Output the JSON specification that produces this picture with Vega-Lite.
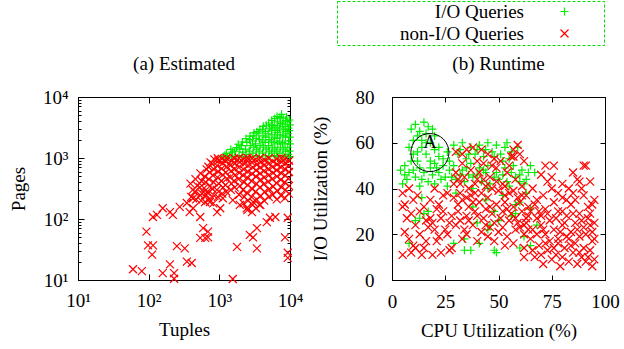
{
"$schema":"https://vega.github.io/schema/vega-lite/v6.json",
"padding":{"left":8,"top":0,"right":0,"bottom":0},
"background":"white",
"config":{
 "font":"Liberation Serif",
 "view":{"stroke":"black","strokeWidth":1},
 "axis":{"grid":false,"domainColor":"black","domainWidth":1,"tickColor":"black","tickWidth":1,"labelColor":"black","labelFont":"Liberation Serif","labelFontSize":19,"titleFont":"Liberation Serif","titleFontSize":19,"titleFontWeight":"normal","titleColor":"black","labelFlush":false,"labelOverlap":false,"tickSize":-5},
 "title":{"font":"Liberation Serif","fontSize":19,"fontWeight":"normal","color":"black","offset":14},
 "legend":{"labelFont":"Liberation Serif","labelFontSize":19,"labelColor":"black","labelAlign":"right","labelOffset":-50,"symbolOffset":217,"symbolStrokeWidth":1.2,"symbolSize":64,"strokeColor":"#00dd00","strokeDash":[3,2],"strokeWidth":1,"padding":1,"rowPadding":2}
},
"datasets":{
"est":[
{"type":"I/O Queries","tuples":1150,"pages":1050},{"type":"I/O Queries","tuples":1200,"pages":1110},
{"type":"I/O Queries","tuples":1300,"pages":1040},{"type":"I/O Queries","tuples":1260,"pages":1190},
{"type":"I/O Queries","tuples":1480,"pages":1080},{"type":"I/O Queries","tuples":1530,"pages":1250},{"type":"I/O Queries","tuples":1450,"pages":1380},
{"type":"I/O Queries","tuples":1700,"pages":1050},{"type":"I/O Queries","tuples":1650,"pages":1300},{"type":"I/O Queries","tuples":1750,"pages":1480},
{"type":"I/O Queries","tuples":1900,"pages":1100},{"type":"I/O Queries","tuples":1950,"pages":1400},{"type":"I/O Queries","tuples":1850,"pages":1680},
{"type":"I/O Queries","tuples":2100,"pages":1050},{"type":"I/O Queries","tuples":2150,"pages":1250},{"type":"I/O Queries","tuples":2050,"pages":1600},{"type":"I/O Queries","tuples":2120,"pages":1830},
{"type":"I/O Queries","tuples":2400,"pages":1150},{"type":"I/O Queries","tuples":2350,"pages":1400},{"type":"I/O Queries","tuples":2450,"pages":1800},{"type":"I/O Queries","tuples":2380,"pages":2080},
{"type":"I/O Queries","tuples":2700,"pages":1050},{"type":"I/O Queries","tuples":2650,"pages":1300},{"type":"I/O Queries","tuples":2750,"pages":1600},{"type":"I/O Queries","tuples":2680,"pages":2000},{"type":"I/O Queries","tuples":2720,"pages":2280},
{"type":"I/O Queries","tuples":3000,"pages":1200},{"type":"I/O Queries","tuples":3080,"pages":1500},{"type":"I/O Queries","tuples":2950,"pages":1900},{"type":"I/O Queries","tuples":3020,"pages":2300},{"type":"I/O Queries","tuples":3100,"pages":2580},
{"type":"I/O Queries","tuples":3300,"pages":1100},{"type":"I/O Queries","tuples":3380,"pages":1400},{"type":"I/O Queries","tuples":3250,"pages":1700},{"type":"I/O Queries","tuples":3320,"pages":2100},{"type":"I/O Queries","tuples":3400,"pages":2700},
{"type":"I/O Queries","tuples":3700,"pages":1050},{"type":"I/O Queries","tuples":3650,"pages":1300},{"type":"I/O Queries","tuples":3780,"pages":1600},{"type":"I/O Queries","tuples":3700,"pages":2000},{"type":"I/O Queries","tuples":3620,"pages":2500},{"type":"I/O Queries","tuples":3750,"pages":2950},
{"type":"I/O Queries","tuples":4100,"pages":1200},{"type":"I/O Queries","tuples":4200,"pages":1500},{"type":"I/O Queries","tuples":4050,"pages":1900},{"type":"I/O Queries","tuples":4150,"pages":2300},{"type":"I/O Queries","tuples":4080,"pages":2900},{"type":"I/O Queries","tuples":4180,"pages":3300},
{"type":"I/O Queries","tuples":4500,"pages":1100},{"type":"I/O Queries","tuples":4600,"pages":1400},{"type":"I/O Queries","tuples":4450,"pages":1800},{"type":"I/O Queries","tuples":4550,"pages":2200},{"type":"I/O Queries","tuples":4480,"pages":2700},{"type":"I/O Queries","tuples":4620,"pages":3450},
{"type":"I/O Queries","tuples":5000,"pages":1050},{"type":"I/O Queries","tuples":5100,"pages":1300},{"type":"I/O Queries","tuples":4950,"pages":1600},{"type":"I/O Queries","tuples":5050,"pages":2000},{"type":"I/O Queries","tuples":4900,"pages":2500},{"type":"I/O Queries","tuples":5150,"pages":3100},{"type":"I/O Queries","tuples":5000,"pages":3750},
{"type":"I/O Queries","tuples":5500,"pages":1200},{"type":"I/O Queries","tuples":5600,"pages":1500},{"type":"I/O Queries","tuples":5450,"pages":1900},{"type":"I/O Queries","tuples":5550,"pages":2400},{"type":"I/O Queries","tuples":5480,"pages":2900},{"type":"I/O Queries","tuples":5620,"pages":3500},{"type":"I/O Queries","tuples":5520,"pages":4150},
{"type":"I/O Queries","tuples":6000,"pages":1100},{"type":"I/O Queries","tuples":6100,"pages":1400},{"type":"I/O Queries","tuples":5950,"pages":1800},{"type":"I/O Queries","tuples":6050,"pages":2200},{"type":"I/O Queries","tuples":6150,"pages":2800},{"type":"I/O Queries","tuples":5980,"pages":3400},{"type":"I/O Queries","tuples":6080,"pages":4450},
{"type":"I/O Queries","tuples":6600,"pages":1050},{"type":"I/O Queries","tuples":6500,"pages":1300},{"type":"I/O Queries","tuples":6700,"pages":1700},{"type":"I/O Queries","tuples":6550,"pages":2100},{"type":"I/O Queries","tuples":6650,"pages":2600},{"type":"I/O Queries","tuples":6600,"pages":3200},{"type":"I/O Queries","tuples":6700,"pages":3900},{"type":"I/O Queries","tuples":6550,"pages":4800},
{"type":"I/O Queries","tuples":7200,"pages":1200},{"type":"I/O Queries","tuples":7300,"pages":1500},{"type":"I/O Queries","tuples":7150,"pages":1900},{"type":"I/O Queries","tuples":7250,"pages":2400},{"type":"I/O Queries","tuples":7100,"pages":3000},{"type":"I/O Queries","tuples":7350,"pages":3700},{"type":"I/O Queries","tuples":7200,"pages":4600},{"type":"I/O Queries","tuples":7600,"pages":5200},
{"type":"I/O Queries","tuples":7900,"pages":1100},{"type":"I/O Queries","tuples":8000,"pages":1400},{"type":"I/O Queries","tuples":7800,"pages":1800},{"type":"I/O Queries","tuples":7950,"pages":2300},{"type":"I/O Queries","tuples":8050,"pages":2900},{"type":"I/O Queries","tuples":7850,"pages":3600},{"type":"I/O Queries","tuples":8000,"pages":4400},{"type":"I/O Queries","tuples":8900,"pages":4700},
{"type":"I/O Queries","tuples":8600,"pages":1050},{"type":"I/O Queries","tuples":8700,"pages":1300},{"type":"I/O Queries","tuples":8500,"pages":1700},{"type":"I/O Queries","tuples":8650,"pages":2200},{"type":"I/O Queries","tuples":8750,"pages":2700},{"type":"I/O Queries","tuples":8550,"pages":3300},{"type":"I/O Queries","tuples":8700,"pages":4100},
{"type":"I/O Queries","tuples":9400,"pages":1150},{"type":"I/O Queries","tuples":9300,"pages":1500},{"type":"I/O Queries","tuples":9500,"pages":1900},{"type":"I/O Queries","tuples":9350,"pages":2500},{"type":"I/O Queries","tuples":9450,"pages":3100},{"type":"I/O Queries","tuples":9300,"pages":3900},
{"type":"I/O Queries","tuples":9900,"pages":1050},{"type":"I/O Queries","tuples":9850,"pages":1300},{"type":"I/O Queries","tuples":9950,"pages":1700},{"type":"I/O Queries","tuples":9900,"pages":2200},{"type":"I/O Queries","tuples":9800,"pages":2800},{"type":"I/O Queries","tuples":9950,"pages":3500},{"type":"I/O Queries","tuples":9850,"pages":4200},
{"type":"non-I/O Queries","tuples":400,"pages":230},{"type":"non-I/O Queries","tuples":420,"pages":300},{"type":"non-I/O Queries","tuples":390,"pages":380},
{"type":"non-I/O Queries","tuples":470,"pages":210},{"type":"non-I/O Queries","tuples":450,"pages":280},{"type":"non-I/O Queries","tuples":490,"pages":350},{"type":"non-I/O Queries","tuples":460,"pages":450},
{"type":"non-I/O Queries","tuples":550,"pages":200},{"type":"non-I/O Queries","tuples":570,"pages":260},{"type":"non-I/O Queries","tuples":530,"pages":330},{"type":"non-I/O Queries","tuples":560,"pages":420},{"type":"non-I/O Queries","tuples":540,"pages":560},
{"type":"non-I/O Queries","tuples":630,"pages":190},{"type":"non-I/O Queries","tuples":650,"pages":250},{"type":"non-I/O Queries","tuples":610,"pages":320},{"type":"non-I/O Queries","tuples":640,"pages":400},{"type":"non-I/O Queries","tuples":620,"pages":500},{"type":"non-I/O Queries","tuples":660,"pages":650},
{"type":"non-I/O Queries","tuples":720,"pages":210},{"type":"non-I/O Queries","tuples":700,"pages":270},{"type":"non-I/O Queries","tuples":740,"pages":350},{"type":"non-I/O Queries","tuples":710,"pages":450},{"type":"non-I/O Queries","tuples":730,"pages":580},{"type":"non-I/O Queries","tuples":700,"pages":720},{"type":"non-I/O Queries","tuples":750,"pages":850},
{"type":"non-I/O Queries","tuples":820,"pages":180},{"type":"non-I/O Queries","tuples":850,"pages":240},{"type":"non-I/O Queries","tuples":800,"pages":310},{"type":"non-I/O Queries","tuples":830,"pages":400},{"type":"non-I/O Queries","tuples":810,"pages":520},{"type":"non-I/O Queries","tuples":840,"pages":650},{"type":"non-I/O Queries","tuples":800,"pages":800},{"type":"non-I/O Queries","tuples":850,"pages":950},
{"type":"non-I/O Queries","tuples":950,"pages":230},{"type":"non-I/O Queries","tuples":920,"pages":300},{"type":"non-I/O Queries","tuples":980,"pages":380},{"type":"non-I/O Queries","tuples":940,"pages":480},{"type":"non-I/O Queries","tuples":960,"pages":600},{"type":"non-I/O Queries","tuples":930,"pages":750},{"type":"non-I/O Queries","tuples":970,"pages":900},{"type":"non-I/O Queries","tuples":950,"pages":990},
{"type":"non-I/O Queries","tuples":1100,"pages":260},{"type":"non-I/O Queries","tuples":1130,"pages":330},{"type":"non-I/O Queries","tuples":1070,"pages":420},{"type":"non-I/O Queries","tuples":1120,"pages":530},{"type":"non-I/O Queries","tuples":1080,"pages":670},{"type":"non-I/O Queries","tuples":1110,"pages":820},{"type":"non-I/O Queries","tuples":1090,"pages":970},
{"type":"non-I/O Queries","tuples":1250,"pages":280},{"type":"non-I/O Queries","tuples":1220,"pages":360},{"type":"non-I/O Queries","tuples":1280,"pages":460},{"type":"non-I/O Queries","tuples":1240,"pages":580},{"type":"non-I/O Queries","tuples":1270,"pages":720},{"type":"non-I/O Queries","tuples":1230,"pages":880},{"type":"non-I/O Queries","tuples":1260,"pages":1000},
{"type":"non-I/O Queries","tuples":1450,"pages":300},{"type":"non-I/O Queries","tuples":1480,"pages":380},{"type":"non-I/O Queries","tuples":1420,"pages":480},{"type":"non-I/O Queries","tuples":1460,"pages":610},{"type":"non-I/O Queries","tuples":1440,"pages":760},{"type":"non-I/O Queries","tuples":1470,"pages":920},
{"type":"non-I/O Queries","tuples":1650,"pages":330},{"type":"non-I/O Queries","tuples":1620,"pages":420},{"type":"non-I/O Queries","tuples":1680,"pages":530},{"type":"non-I/O Queries","tuples":1640,"pages":660},{"type":"non-I/O Queries","tuples":1670,"pages":820},{"type":"non-I/O Queries","tuples":1630,"pages":980},
{"type":"non-I/O Queries","tuples":1900,"pages":250},{"type":"non-I/O Queries","tuples":1950,"pages":350},{"type":"non-I/O Queries","tuples":1860,"pages":450},{"type":"non-I/O Queries","tuples":1920,"pages":570},{"type":"non-I/O Queries","tuples":1880,"pages":700},{"type":"non-I/O Queries","tuples":1940,"pages":860},{"type":"non-I/O Queries","tuples":1900,"pages":1000},
{"type":"non-I/O Queries","tuples":2200,"pages":180},{"type":"non-I/O Queries","tuples":2250,"pages":230},{"type":"non-I/O Queries","tuples":2150,"pages":300},{"type":"non-I/O Queries","tuples":2230,"pages":400},{"type":"non-I/O Queries","tuples":2170,"pages":520},{"type":"non-I/O Queries","tuples":2210,"pages":650},{"type":"non-I/O Queries","tuples":2260,"pages":800},{"type":"non-I/O Queries","tuples":2190,"pages":950},
{"type":"non-I/O Queries","tuples":2500,"pages":140},{"type":"non-I/O Queries","tuples":2550,"pages":200},{"type":"non-I/O Queries","tuples":2450,"pages":270},{"type":"non-I/O Queries","tuples":2530,"pages":360},{"type":"non-I/O Queries","tuples":2470,"pages":480},{"type":"non-I/O Queries","tuples":2520,"pages":600},{"type":"non-I/O Queries","tuples":2560,"pages":750},{"type":"non-I/O Queries","tuples":2480,"pages":900},{"type":"non-I/O Queries","tuples":2510,"pages":1000},
{"type":"non-I/O Queries","tuples":2900,"pages":130},{"type":"non-I/O Queries","tuples":2950,"pages":170},{"type":"non-I/O Queries","tuples":2850,"pages":230},{"type":"non-I/O Queries","tuples":2930,"pages":310},{"type":"non-I/O Queries","tuples":2870,"pages":420},{"type":"non-I/O Queries","tuples":2910,"pages":550},{"type":"non-I/O Queries","tuples":2960,"pages":700},{"type":"non-I/O Queries","tuples":2880,"pages":850},{"type":"non-I/O Queries","tuples":2920,"pages":980},
{"type":"non-I/O Queries","tuples":3300,"pages":150},{"type":"non-I/O Queries","tuples":3370,"pages":210},{"type":"non-I/O Queries","tuples":3250,"pages":280},{"type":"non-I/O Queries","tuples":3340,"pages":380},{"type":"non-I/O Queries","tuples":3280,"pages":500},{"type":"non-I/O Queries","tuples":3320,"pages":630},{"type":"non-I/O Queries","tuples":3380,"pages":780},{"type":"non-I/O Queries","tuples":3260,"pages":940},
{"type":"non-I/O Queries","tuples":3800,"pages":170},{"type":"non-I/O Queries","tuples":3870,"pages":240},{"type":"non-I/O Queries","tuples":3750,"pages":330},{"type":"non-I/O Queries","tuples":3840,"pages":440},{"type":"non-I/O Queries","tuples":3780,"pages":560},{"type":"non-I/O Queries","tuples":3820,"pages":700},{"type":"non-I/O Queries","tuples":3880,"pages":860},{"type":"non-I/O Queries","tuples":3760,"pages":1000},
{"type":"non-I/O Queries","tuples":4300,"pages":200},{"type":"non-I/O Queries","tuples":4380,"pages":280},{"type":"non-I/O Queries","tuples":4250,"pages":370},{"type":"non-I/O Queries","tuples":4340,"pages":480},{"type":"non-I/O Queries","tuples":4270,"pages":610},{"type":"non-I/O Queries","tuples":4320,"pages":760},{"type":"non-I/O Queries","tuples":4400,"pages":920},
{"type":"non-I/O Queries","tuples":5000,"pages":230},{"type":"non-I/O Queries","tuples":5100,"pages":310},{"type":"non-I/O Queries","tuples":4900,"pages":410},{"type":"non-I/O Queries","tuples":5050,"pages":530},{"type":"non-I/O Queries","tuples":4950,"pages":660},{"type":"non-I/O Queries","tuples":5080,"pages":820},{"type":"non-I/O Queries","tuples":5000,"pages":990},
{"type":"non-I/O Queries","tuples":5700,"pages":250},{"type":"non-I/O Queries","tuples":5800,"pages":340},{"type":"non-I/O Queries","tuples":5600,"pages":450},{"type":"non-I/O Queries","tuples":5750,"pages":570},{"type":"non-I/O Queries","tuples":5650,"pages":710},{"type":"non-I/O Queries","tuples":5780,"pages":870},
{"type":"non-I/O Queries","tuples":6500,"pages":210},{"type":"non-I/O Queries","tuples":6600,"pages":290},{"type":"non-I/O Queries","tuples":6400,"pages":390},{"type":"non-I/O Queries","tuples":6550,"pages":500},{"type":"non-I/O Queries","tuples":6450,"pages":630},{"type":"non-I/O Queries","tuples":6580,"pages":790},{"type":"non-I/O Queries","tuples":6500,"pages":960},
{"type":"non-I/O Queries","tuples":7500,"pages":240},{"type":"non-I/O Queries","tuples":7600,"pages":330},{"type":"non-I/O Queries","tuples":7400,"pages":440},{"type":"non-I/O Queries","tuples":7550,"pages":560},{"type":"non-I/O Queries","tuples":7450,"pages":700},{"type":"non-I/O Queries","tuples":7580,"pages":860},{"type":"non-I/O Queries","tuples":7500,"pages":1000},
{"type":"non-I/O Queries","tuples":8500,"pages":220},{"type":"non-I/O Queries","tuples":8600,"pages":300},{"type":"non-I/O Queries","tuples":8400,"pages":400},{"type":"non-I/O Queries","tuples":8550,"pages":520},{"type":"non-I/O Queries","tuples":8450,"pages":660},{"type":"non-I/O Queries","tuples":8580,"pages":820},{"type":"non-I/O Queries","tuples":8500,"pages":970},
{"type":"non-I/O Queries","tuples":9600,"pages":260},{"type":"non-I/O Queries","tuples":9700,"pages":350},{"type":"non-I/O Queries","tuples":9500,"pages":460},{"type":"non-I/O Queries","tuples":9650,"pages":590},{"type":"non-I/O Queries","tuples":9550,"pages":740},{"type":"non-I/O Queries","tuples":9700,"pages":900},
{"type":"non-I/O Queries","tuples":60,"pages":15},{"type":"non-I/O Queries","tuples":80,"pages":14},{"type":"non-I/O Queries","tuples":93,"pages":62},{"type":"non-I/O Queries","tuples":98,"pages":37},{"type":"non-I/O Queries","tuples":115,"pages":37},{"type":"non-I/O Queries","tuples":112,"pages":26},{"type":"non-I/O Queries","tuples":158,"pages":13},{"type":"non-I/O Queries","tuples":200,"pages":18},{"type":"non-I/O Queries","tuples":229,"pages":13},{"type":"non-I/O Queries","tuples":229,"pages":10.5},{"type":"non-I/O Queries","tuples":251,"pages":36},{"type":"non-I/O Queries","tuples":324,"pages":33},{"type":"non-I/O Queries","tuples":347,"pages":20},{"type":"non-I/O Queries","tuples":407,"pages":19},{"type":"non-I/O Queries","tuples":537,"pages":108},{"type":"non-I/O Queries","tuples":589,"pages":71},{"type":"non-I/O Queries","tuples":631,"pages":49},{"type":"non-I/O Queries","tuples":692,"pages":50},{"type":"non-I/O Queries","tuples":537,"pages":49},{"type":"non-I/O Queries","tuples":692,"pages":62},{"type":"non-I/O Queries","tuples":1550,"pages":10.4},{"type":"non-I/O Queries","tuples":1780,"pages":35},{"type":"non-I/O Queries","tuples":2700,"pages":55},{"type":"non-I/O Queries","tuples":3000,"pages":50},{"type":"non-I/O Queries","tuples":3400,"pages":33},{"type":"non-I/O Queries","tuples":3400,"pages":71},{"type":"non-I/O Queries","tuples":4700,"pages":89},{"type":"non-I/O Queries","tuples":5200,"pages":105},{"type":"non-I/O Queries","tuples":6200,"pages":108},{"type":"non-I/O Queries","tuples":8500,"pages":50},{"type":"non-I/O Queries","tuples":9300,"pages":28},{"type":"non-I/O Queries","tuples":9300,"pages":23},{"type":"non-I/O Queries","tuples":9300,"pages":105},{"type":"non-I/O Queries","tuples":115,"pages":108},{"type":"non-I/O Queries","tuples":131,"pages":117},{"type":"non-I/O Queries","tuples":158,"pages":150},{"type":"non-I/O Queries","tuples":200,"pages":130},{"type":"non-I/O Queries","tuples":220,"pages":117},{"type":"non-I/O Queries","tuples":275,"pages":158},{"type":"non-I/O Queries","tuples":347,"pages":183},{"type":"non-I/O Queries","tuples":380,"pages":130},{"type":"non-I/O Queries","tuples":425,"pages":150},{"type":"non-I/O Queries","tuples":425,"pages":219},{"type":"non-I/O Queries","tuples":537,"pages":245},{"type":"non-I/O Queries","tuples":665,"pages":275},{"type":"non-I/O Queries","tuples":735,"pages":190},{"type":"non-I/O Queries","tuples":930,"pages":130},{"type":"non-I/O Queries","tuples":1030,"pages":150},{"type":"non-I/O Queries","tuples":1120,"pages":219},{"type":"non-I/O Queries","tuples":1550,"pages":204},{"type":"non-I/O Queries","tuples":1950,"pages":170},{"type":"non-I/O Queries","tuples":2450,"pages":150},{"type":"non-I/O Queries","tuples":3000,"pages":190},{"type":"non-I/O Queries","tuples":3700,"pages":170}
],
"run":[
{"type":"I/O Queries","cpu":9,"io":66},{"type":"I/O Queries","cpu":11,"io":68},{"type":"I/O Queries","cpu":13,"io":65},{"type":"I/O Queries","cpu":15,"io":69},{"type":"I/O Queries","cpu":17,"io":67},{"type":"I/O Queries","cpu":19,"io":66},{"type":"I/O Queries","cpu":12,"io":63},{"type":"I/O Queries","cpu":16,"io":64},{"type":"I/O Queries","cpu":20,"io":63},{"type":"I/O Queries","cpu":10,"io":61},{"type":"I/O Queries","cpu":14,"io":61},{"type":"I/O Queries","cpu":18,"io":60},{"type":"I/O Queries","cpu":22,"io":58},
{"type":"I/O Queries","cpu":6,"io":50},{"type":"I/O Queries","cpu":8,"io":47},{"type":"I/O Queries","cpu":10,"io":55},{"type":"I/O Queries","cpu":12,"io":52},{"type":"I/O Queries","cpu":14,"io":58},{"type":"I/O Queries","cpu":16,"io":55},{"type":"I/O Queries","cpu":18,"io":52},{"type":"I/O Queries","cpu":20,"io":57},{"type":"I/O Queries","cpu":22,"io":54},{"type":"I/O Queries","cpu":24,"io":50},{"type":"I/O Queries","cpu":26,"io":56},{"type":"I/O Queries","cpu":7,"io":44},{"type":"I/O Queries","cpu":11,"io":45},{"type":"I/O Queries","cpu":15,"io":47},{"type":"I/O Queries","cpu":19,"io":46},{"type":"I/O Queries","cpu":23,"io":44},{"type":"I/O Queries","cpu":27,"io":48},{"type":"I/O Queries","cpu":13,"io":49},{"type":"I/O Queries","cpu":17,"io":43},{"type":"I/O Queries","cpu":21,"io":49},{"type":"I/O Queries","cpu":9,"io":52},{"type":"I/O Queries","cpu":25,"io":45},{"type":"I/O Queries","cpu":4,"io":48},
{"type":"I/O Queries","cpu":8,"io":58},{"type":"I/O Queries","cpu":12,"io":56},{"type":"I/O Queries","cpu":16,"io":60},{"type":"I/O Queries","cpu":20,"io":51},{"type":"I/O Queries","cpu":24,"io":53},{"type":"I/O Queries","cpu":6,"io":46},{"type":"I/O Queries","cpu":10,"io":48},{"type":"I/O Queries","cpu":14,"io":44},{"type":"I/O Queries","cpu":18,"io":49},{"type":"I/O Queries","cpu":22,"io":47},{"type":"I/O Queries","cpu":27,"io":52},{"type":"I/O Queries","cpu":28,"io":45},
{"type":"I/O Queries","cpu":29,"io":59},{"type":"I/O Queries","cpu":33,"io":60},{"type":"I/O Queries","cpu":37,"io":58},{"type":"I/O Queries","cpu":41,"io":59},{"type":"I/O Queries","cpu":45,"io":60},{"type":"I/O Queries","cpu":49,"io":59},{"type":"I/O Queries","cpu":53,"io":58},{"type":"I/O Queries","cpu":31,"io":55},{"type":"I/O Queries","cpu":35,"io":53},{"type":"I/O Queries","cpu":39,"io":55},{"type":"I/O Queries","cpu":43,"io":54},{"type":"I/O Queries","cpu":47,"io":56},{"type":"I/O Queries","cpu":51,"io":55},{"type":"I/O Queries","cpu":55,"io":53},{"type":"I/O Queries","cpu":29,"io":50},{"type":"I/O Queries","cpu":33,"io":48},{"type":"I/O Queries","cpu":37,"io":51},{"type":"I/O Queries","cpu":41,"io":49},{"type":"I/O Queries","cpu":45,"io":50},{"type":"I/O Queries","cpu":49,"io":47},{"type":"I/O Queries","cpu":53,"io":49},{"type":"I/O Queries","cpu":57,"io":50},{"type":"I/O Queries","cpu":30,"io":44},{"type":"I/O Queries","cpu":34,"io":43},{"type":"I/O Queries","cpu":38,"io":45},{"type":"I/O Queries","cpu":42,"io":43},{"type":"I/O Queries","cpu":46,"io":42},{"type":"I/O Queries","cpu":50,"io":44},{"type":"I/O Queries","cpu":54,"io":43},{"type":"I/O Queries","cpu":58,"io":45},{"type":"I/O Queries","cpu":61,"io":48},{"type":"I/O Queries","cpu":60,"io":43},{"type":"I/O Queries","cpu":65,"io":50},{"type":"I/O Queries","cpu":64,"io":47},{"type":"I/O Queries","cpu":67,"io":47},{"type":"I/O Queries","cpu":54,"io":60},{"type":"I/O Queries","cpu":59,"io":58},
{"type":"I/O Queries","cpu":32,"io":57},{"type":"I/O Queries","cpu":36,"io":55},{"type":"I/O Queries","cpu":40,"io":57},{"type":"I/O Queries","cpu":44,"io":57},{"type":"I/O Queries","cpu":48,"io":54},{"type":"I/O Queries","cpu":52,"io":52},{"type":"I/O Queries","cpu":56,"io":56},{"type":"I/O Queries","cpu":32,"io":46},{"type":"I/O Queries","cpu":36,"io":46},{"type":"I/O Queries","cpu":40,"io":46},{"type":"I/O Queries","cpu":44,"io":47},{"type":"I/O Queries","cpu":48,"io":45},{"type":"I/O Queries","cpu":52,"io":46},{"type":"I/O Queries","cpu":56,"io":47},{"type":"I/O Queries","cpu":60,"io":46},{"type":"I/O Queries","cpu":63,"io":44},{"type":"I/O Queries","cpu":35,"io":49},{"type":"I/O Queries","cpu":43,"io":48},
{"type":"I/O Queries","cpu":5,"io":42},{"type":"I/O Queries","cpu":13,"io":41},{"type":"I/O Queries","cpu":20,"io":42},{"type":"I/O Queries","cpu":26,"io":41},{"type":"I/O Queries","cpu":45,"io":40},{"type":"I/O Queries","cpu":55,"io":41},{"type":"I/O Queries","cpu":62,"io":42},
{"type":"I/O Queries","cpu":15,"io":29},{"type":"I/O Queries","cpu":11,"io":26},{"type":"I/O Queries","cpu":14,"io":36},{"type":"I/O Queries","cpu":17,"io":30},{"type":"I/O Queries","cpu":8,"io":16},{"type":"I/O Queries","cpu":13,"io":27},{"type":"I/O Queries","cpu":34,"io":18},{"type":"I/O Queries","cpu":37,"io":13},{"type":"I/O Queries","cpu":34,"io":13},{"type":"I/O Queries","cpu":41,"io":16},{"type":"I/O Queries","cpu":48,"io":13},{"type":"I/O Queries","cpu":49,"io":12},{"type":"I/O Queries","cpu":60,"io":14},{"type":"I/O Queries","cpu":65,"io":15},{"type":"I/O Queries","cpu":62,"io":19},{"type":"I/O Queries","cpu":29,"io":16},{"type":"I/O Queries","cpu":44,"io":35},{"type":"I/O Queries","cpu":48,"io":30},{"type":"I/O Queries","cpu":52,"io":37},{"type":"I/O Queries","cpu":40,"io":25},{"type":"I/O Queries","cpu":56,"io":28},{"type":"I/O Queries","cpu":58,"io":33},{"type":"I/O Queries","cpu":45,"io":22},{"type":"I/O Queries","cpu":38,"io":40},{"type":"I/O Queries","cpu":63,"io":38},{"type":"I/O Queries","cpu":30,"io":38},{"type":"I/O Queries","cpu":50,"io":26},{"type":"I/O Queries","cpu":38,"io":32},{"type":"I/O Queries","cpu":46,"io":24},{"type":"I/O Queries","cpu":58,"io":29},{"type":"I/O Queries","cpu":60,"io":34},{"type":"I/O Queries","cpu":65,"io":31},{"type":"I/O Queries","cpu":68,"io":24},
{"type":"non-I/O Queries","cpu":5,"io":38},{"type":"non-I/O Queries","cpu":6,"io":33},{"type":"non-I/O Queries","cpu":5,"io":32},{"type":"non-I/O Queries","cpu":9,"io":29},{"type":"non-I/O Queries","cpu":6,"io":21},{"type":"non-I/O Queries","cpu":8,"io":18},{"type":"non-I/O Queries","cpu":10,"io":15},{"type":"non-I/O Queries","cpu":11,"io":14},{"type":"non-I/O Queries","cpu":5,"io":11},{"type":"non-I/O Queries","cpu":14,"io":11},{"type":"non-I/O Queries","cpu":19,"io":11},{"type":"non-I/O Queries","cpu":17,"io":23},{"type":"non-I/O Queries","cpu":19,"io":25},{"type":"non-I/O Queries","cpu":18,"io":27},{"type":"non-I/O Queries","cpu":21,"io":31},{"type":"non-I/O Queries","cpu":22,"io":33},{"type":"non-I/O Queries","cpu":24,"io":37},{"type":"non-I/O Queries","cpu":22,"io":19},{"type":"non-I/O Queries","cpu":21,"io":17},{"type":"non-I/O Queries","cpu":28,"io":14},{"type":"non-I/O Queries","cpu":27,"io":13},{"type":"non-I/O Queries","cpu":26,"io":38},{"type":"non-I/O Queries","cpu":15,"io":32},{"type":"non-I/O Queries","cpu":16,"io":26},{"type":"non-I/O Queries","cpu":13,"io":20},{"type":"non-I/O Queries","cpu":12,"io":37},{"type":"non-I/O Queries","cpu":20,"io":40},{"type":"non-I/O Queries","cpu":25,"io":22},{"type":"non-I/O Queries","cpu":23,"io":27},{"type":"non-I/O Queries","cpu":8,"io":40},{"type":"non-I/O Queries","cpu":11,"io":24},{"type":"non-I/O Queries","cpu":16,"io":17},
{"type":"non-I/O Queries","cpu":7,"io":27},{"type":"non-I/O Queries","cpu":10,"io":35},{"type":"non-I/O Queries","cpu":13,"io":30},{"type":"non-I/O Queries","cpu":18,"io":35},{"type":"non-I/O Queries","cpu":24,"io":30},{"type":"non-I/O Queries","cpu":27,"io":25},{"type":"non-I/O Queries","cpu":9,"io":12},{"type":"non-I/O Queries","cpu":15,"io":14},{"type":"non-I/O Queries","cpu":23,"io":12},{"type":"non-I/O Queries","cpu":26,"io":20},{"type":"non-I/O Queries","cpu":20,"io":22},
{"type":"non-I/O Queries","cpu":30,"io":56},{"type":"non-I/O Queries","cpu":35,"io":57},{"type":"non-I/O Queries","cpu":38,"io":58},{"type":"non-I/O Queries","cpu":45,"io":55},{"type":"non-I/O Queries","cpu":48,"io":53},{"type":"non-I/O Queries","cpu":56,"io":54},{"type":"non-I/O Queries","cpu":57,"io":57},{"type":"non-I/O Queries","cpu":33,"io":51},{"type":"non-I/O Queries","cpu":30,"io":47},{"type":"non-I/O Queries","cpu":37,"io":48},{"type":"non-I/O Queries","cpu":43,"io":51},{"type":"non-I/O Queries","cpu":49,"io":49},{"type":"non-I/O Queries","cpu":54,"io":47},{"type":"non-I/O Queries","cpu":40,"io":44},{"type":"non-I/O Queries","cpu":46,"io":45},{"type":"non-I/O Queries","cpu":52,"io":42},{"type":"non-I/O Queries","cpu":58,"io":44},{"type":"non-I/O Queries","cpu":32,"io":42},{"type":"non-I/O Queries","cpu":36,"io":40},{"type":"non-I/O Queries","cpu":44,"io":41},{"type":"non-I/O Queries","cpu":50,"io":39},{"type":"non-I/O Queries","cpu":55,"io":38},{"type":"non-I/O Queries","cpu":61,"io":41},{"type":"non-I/O Queries","cpu":63,"io":37},
{"type":"non-I/O Queries","cpu":29,"io":42},{"type":"non-I/O Queries","cpu":33,"io":55},{"type":"non-I/O Queries","cpu":40,"io":52},{"type":"non-I/O Queries","cpu":42,"io":57},{"type":"non-I/O Queries","cpu":47,"io":50},{"type":"non-I/O Queries","cpu":51,"io":52},{"type":"non-I/O Queries","cpu":55,"io":50},{"type":"non-I/O Queries","cpu":60,"io":55},{"type":"non-I/O Queries","cpu":62,"io":52},{"type":"non-I/O Queries","cpu":31,"io":44},{"type":"non-I/O Queries","cpu":35,"io":36},{"type":"non-I/O Queries","cpu":39,"io":38},{"type":"non-I/O Queries","cpu":43,"io":44},{"type":"non-I/O Queries","cpu":49,"io":43},{"type":"non-I/O Queries","cpu":53,"io":41},{"type":"non-I/O Queries","cpu":57,"io":39},{"type":"non-I/O Queries","cpu":59,"io":36},{"type":"non-I/O Queries","cpu":61,"io":37},
{"type":"non-I/O Queries","cpu":29,"io":36},{"type":"non-I/O Queries","cpu":33,"io":35},{"type":"non-I/O Queries","cpu":37,"io":37},{"type":"non-I/O Queries","cpu":41,"io":34},{"type":"non-I/O Queries","cpu":45,"io":36},{"type":"non-I/O Queries","cpu":49,"io":33},{"type":"non-I/O Queries","cpu":53,"io":34},{"type":"non-I/O Queries","cpu":57,"io":32},{"type":"non-I/O Queries","cpu":61,"io":30},{"type":"non-I/O Queries","cpu":31,"io":30},{"type":"non-I/O Queries","cpu":35,"io":28},{"type":"non-I/O Queries","cpu":39,"io":30},{"type":"non-I/O Queries","cpu":43,"io":27},{"type":"non-I/O Queries","cpu":47,"io":29},{"type":"non-I/O Queries","cpu":51,"io":27},{"type":"non-I/O Queries","cpu":55,"io":26},{"type":"non-I/O Queries","cpu":59,"io":25},{"type":"non-I/O Queries","cpu":63,"io":27},{"type":"non-I/O Queries","cpu":30,"io":24},{"type":"non-I/O Queries","cpu":34,"io":22},{"type":"non-I/O Queries","cpu":38,"io":24},{"type":"non-I/O Queries","cpu":42,"io":21},{"type":"non-I/O Queries","cpu":46,"io":23},{"type":"non-I/O Queries","cpu":50,"io":21},{"type":"non-I/O Queries","cpu":54,"io":19},{"type":"non-I/O Queries","cpu":58,"io":22},{"type":"non-I/O Queries","cpu":62,"io":20},{"type":"non-I/O Queries","cpu":33,"io":18},{"type":"non-I/O Queries","cpu":40,"io":17},{"type":"non-I/O Queries","cpu":48,"io":17},{"type":"non-I/O Queries","cpu":57,"io":16},{"type":"non-I/O Queries","cpu":28,"io":28},{"type":"non-I/O Queries","cpu":36,"io":32},{"type":"non-I/O Queries","cpu":44,"io":31},{"type":"non-I/O Queries","cpu":52,"io":30},{"type":"non-I/O Queries","cpu":60,"io":34},
{"type":"non-I/O Queries","cpu":32,"io":38},{"type":"non-I/O Queries","cpu":38,"io":34},{"type":"non-I/O Queries","cpu":42,"io":38},{"type":"non-I/O Queries","cpu":47,"io":40},{"type":"non-I/O Queries","cpu":53,"io":37},{"type":"non-I/O Queries","cpu":39,"io":42},{"type":"non-I/O Queries","cpu":34,"io":45},{"type":"non-I/O Queries","cpu":41,"io":47},{"type":"non-I/O Queries","cpu":31,"io":33},{"type":"non-I/O Queries","cpu":36,"io":26},{"type":"non-I/O Queries","cpu":48,"io":25},{"type":"non-I/O Queries","cpu":56,"io":29},{"type":"non-I/O Queries","cpu":44,"io":24},{"type":"non-I/O Queries","cpu":52,"io":23},{"type":"non-I/O Queries","cpu":60,"io":23},{"type":"non-I/O Queries","cpu":35,"io":20},{"type":"non-I/O Queries","cpu":45,"io":19},{"type":"non-I/O Queries","cpu":53,"io":15},{"type":"non-I/O Queries","cpu":64,"io":22},{"type":"non-I/O Queries","cpu":65,"io":30},
{"type":"non-I/O Queries","cpu":32,"io":26},{"type":"non-I/O Queries","cpu":40,"io":28},{"type":"non-I/O Queries","cpu":46,"io":32},{"type":"non-I/O Queries","cpu":54,"io":31},{"type":"non-I/O Queries","cpu":58,"io":27},{"type":"non-I/O Queries","cpu":62,"io":24},
{"type":"non-I/O Queries","cpu":63,"io":25},{"type":"non-I/O Queries","cpu":66,"io":22},{"type":"non-I/O Queries","cpu":68,"io":27},{"type":"non-I/O Queries","cpu":70,"io":24},{"type":"non-I/O Queries","cpu":72,"io":20},{"type":"non-I/O Queries","cpu":74,"io":26},{"type":"non-I/O Queries","cpu":76,"io":22},{"type":"non-I/O Queries","cpu":78,"io":18},{"type":"non-I/O Queries","cpu":80,"io":24},{"type":"non-I/O Queries","cpu":82,"io":28},{"type":"non-I/O Queries","cpu":84,"io":21},{"type":"non-I/O Queries","cpu":86,"io":25},{"type":"non-I/O Queries","cpu":88,"io":19},{"type":"non-I/O Queries","cpu":90,"io":23},{"type":"non-I/O Queries","cpu":92,"io":27},{"type":"non-I/O Queries","cpu":94,"io":21},{"type":"non-I/O Queries","cpu":65,"io":18},{"type":"non-I/O Queries","cpu":69,"io":15},{"type":"non-I/O Queries","cpu":73,"io":13},{"type":"non-I/O Queries","cpu":77,"io":11},{"type":"non-I/O Queries","cpu":81,"io":14},{"type":"non-I/O Queries","cpu":85,"io":12},{"type":"non-I/O Queries","cpu":89,"io":10},{"type":"non-I/O Queries","cpu":93,"io":13},{"type":"non-I/O Queries","cpu":67,"io":10},{"type":"non-I/O Queries","cpu":71,"io":7},{"type":"non-I/O Queries","cpu":75,"io":9},{"type":"non-I/O Queries","cpu":79,"io":6},{"type":"non-I/O Queries","cpu":83,"io":8},{"type":"non-I/O Queries","cpu":87,"io":7},{"type":"non-I/O Queries","cpu":91,"io":8},{"type":"non-I/O Queries","cpu":94,"io":6},{"type":"non-I/O Queries","cpu":64,"io":32},{"type":"non-I/O Queries","cpu":68,"io":35},{"type":"non-I/O Queries","cpu":72,"io":31},{"type":"non-I/O Queries","cpu":76,"io":34},{"type":"non-I/O Queries","cpu":80,"io":30},{"type":"non-I/O Queries","cpu":84,"io":33},{"type":"non-I/O Queries","cpu":88,"io":29},{"type":"non-I/O Queries","cpu":92,"io":32},{"type":"non-I/O Queries","cpu":95,"io":35},{"type":"non-I/O Queries","cpu":75,"io":40},{"type":"non-I/O Queries","cpu":80,"io":36},{"type":"non-I/O Queries","cpu":85,"io":38},{"type":"non-I/O Queries","cpu":89,"io":40},{"type":"non-I/O Queries","cpu":93,"io":43},{"type":"non-I/O Queries","cpu":62,"io":10},{"type":"non-I/O Queries","cpu":66,"io":40},{"type":"non-I/O Queries","cpu":70,"io":46},{"type":"non-I/O Queries","cpu":75,"io":45},{"type":"non-I/O Queries","cpu":72,"io":50},{"type":"non-I/O Queries","cpu":76,"io":50},{"type":"non-I/O Queries","cpu":85,"io":47},{"type":"non-I/O Queries","cpu":90,"io":50},{"type":"non-I/O Queries","cpu":91,"io":50},{"type":"non-I/O Queries","cpu":88,"io":43},{"type":"non-I/O Queries","cpu":80,"io":42},{"type":"non-I/O Queries","cpu":59,"io":59},{"type":"non-I/O Queries","cpu":57,"io":54},{"type":"non-I/O Queries","cpu":78,"io":16},{"type":"non-I/O Queries","cpu":82,"io":19},{"type":"non-I/O Queries","cpu":86,"io":16},{"type":"non-I/O Queries","cpu":90,"io":14},{"type":"non-I/O Queries","cpu":94,"io":17},{"type":"non-I/O Queries","cpu":70,"io":28},{"type":"non-I/O Queries","cpu":74,"io":17},{"type":"non-I/O Queries","cpu":62,"io":14},{"type":"non-I/O Queries","cpu":64,"io":28},{"type":"non-I/O Queries","cpu":93,"io":24},
{"type":"non-I/O Queries","cpu":68,"io":20},{"type":"non-I/O Queries","cpu":71,"io":22},{"type":"non-I/O Queries","cpu":73,"io":29},{"type":"non-I/O Queries","cpu":77,"io":27},{"type":"non-I/O Queries","cpu":79,"io":21},{"type":"non-I/O Queries","cpu":81,"io":25},{"type":"non-I/O Queries","cpu":83,"io":18},{"type":"non-I/O Queries","cpu":85,"io":29},{"type":"non-I/O Queries","cpu":87,"io":22},{"type":"non-I/O Queries","cpu":89,"io":26},{"type":"non-I/O Queries","cpu":91,"io":20},{"type":"non-I/O Queries","cpu":93,"io":29},{"type":"non-I/O Queries","cpu":95,"io":18},{"type":"non-I/O Queries","cpu":66,"io":13},{"type":"non-I/O Queries","cpu":70,"io":11},{"type":"non-I/O Queries","cpu":72,"io":16},{"type":"non-I/O Queries","cpu":76,"io":14},{"type":"non-I/O Queries","cpu":80,"io":10},{"type":"non-I/O Queries","cpu":84,"io":15},{"type":"non-I/O Queries","cpu":88,"io":12},{"type":"non-I/O Queries","cpu":92,"io":10},{"type":"non-I/O Queries","cpu":95,"io":9},{"type":"non-I/O Queries","cpu":67,"io":33},{"type":"non-I/O Queries","cpu":71,"io":37},{"type":"non-I/O Queries","cpu":73,"io":43},{"type":"non-I/O Queries","cpu":78,"io":38},{"type":"non-I/O Queries","cpu":82,"io":35},{"type":"non-I/O Queries","cpu":86,"io":35},{"type":"non-I/O Queries","cpu":90,"io":37},{"type":"non-I/O Queries","cpu":94,"io":33},{"type":"non-I/O Queries","cpu":69,"io":30},{"type":"non-I/O Queries","cpu":83,"io":40},{"type":"non-I/O Queries","cpu":87,"io":44},{"type":"non-I/O Queries","cpu":95,"io":25},{"type":"non-I/O Queries","cpu":78,"io":30}
]
},
"spacing":102,
"bounds":"flush",
"resolve":{"scale":{"color":"shared","shape":"shared"}},
"hconcat":[
{
 "width":212,"height":183,
 "title":{"text":"(a) Estimated"},
 "data":{"name":"est"},
 "resolve":{"axis":{"x":"independent","y":"independent"}},
 "layer":[
  {
   "transform":[{"filter":"datum.type == 'I/O Queries'"}],
   "mark":{"type":"point","filled":false,"strokeWidth":1.2,"size":64,"opacity":1},
   "encoding":{
    "x":{"field":"tuples","type":"quantitative","scale":{"type":"log","domain":[10,10000],"nice":false},"axis":{"orient":"bottom","values":[10,100,1000,10000],"labelExpr":"datum.value == 10 ? '10¹' : datum.value == 100 ? '10²' : datum.value == 1000 ? '10³' : '10⁴'","tickSize":-6,"labelPadding":17,"title":"Tuples","titlePadding":10}},
    "y":{"field":"pages","type":"quantitative","scale":{"type":"log","domain":[10,10000],"nice":false},"axis":{"orient":"left","values":[10,20,30,40,50,60,70,80,90,100,200,300,400,500,600,700,800,900,1000,2000,3000,4000,5000,6000,7000,8000,9000,10000],"labelExpr":"datum.value == 10 ? '10¹' : datum.value == 100 ? '10²' : datum.value == 1000 ? '10³' : datum.value == 10000 ? '10⁴' : ''","tickSize":{"condition":{"test":"indexof([10,100,1000,10000], datum.value) >= 0","value":-6},"value":-3},"labelPadding":16,"title":"Pages","titlePadding":14}},
    "color":{"field":"type","type":"nominal","scale":{"domain":["I/O Queries","non-I/O Queries"],"range":["#00ee00","#ff0000"]},"legend":{"title":null,"orient":"none","legendX":259,"legendY":-96,"strokeColor":"#00dd00"}},
    "shape":{"field":"type","type":"nominal","scale":{"domain":["I/O Queries","non-I/O Queries"],"range":["M-1,0H1M0,-1V1M9,0","M-1,-1L1,1M-1,1L1,-1"]},"legend":{"title":null,"orient":"none","legendX":259,"legendY":-96,"strokeColor":"#00dd00"}}
   }
  },
  {
   "transform":[{"filter":"datum.type != 'I/O Queries'"}],
   "mark":{"type":"point","filled":false,"strokeWidth":1.2,"size":64,"opacity":1},
   "encoding":{
    "x":{"field":"tuples","type":"quantitative","scale":{"type":"log","domain":[10,10000],"nice":false},"axis":{"orient":"top","values":[10,100,1000,10000],"labels":false,"tickSize":-6,"title":null}},
    "y":{"field":"pages","type":"quantitative","scale":{"type":"log","domain":[10,10000],"nice":false},"axis":{"orient":"right","values":[10,20,30,40,50,60,70,80,90,100,200,300,400,500,600,700,800,900,1000,2000,3000,4000,5000,6000,7000,8000,9000,10000],"labels":false,"tickSize":{"condition":{"test":"indexof([10,100,1000,10000], datum.value) >= 0","value":-6},"value":-3},"title":null}},
    "color":{"field":"type","type":"nominal","scale":{"domain":["I/O Queries","non-I/O Queries"],"range":["#00ee00","#ff0000"]},"legend":{"title":null,"orient":"none","legendX":259,"legendY":-96,"strokeColor":"#00dd00"}},
    "shape":{"field":"type","type":"nominal","scale":{"domain":["I/O Queries","non-I/O Queries"],"range":["M-1,0H1M0,-1V1M9,0","M-1,-1L1,1M-1,1L1,-1"]},"legend":{"title":null,"orient":"none","legendX":259,"legendY":-96,"strokeColor":"#00dd00"}}
   }
  }
 ]
},
{
 "width":213,"height":183,
 "title":{"text":"(b) Runtime"},
 "resolve":{"axis":{"x":"independent","y":"independent"}},
 "layer":[
  {
   "data":{"name":"run"},
   "transform":[{"filter":"datum.type == 'I/O Queries'"}],
   "mark":{"type":"point","filled":false,"strokeWidth":1.2,"size":64,"opacity":1},
   "encoding":{
    "x":{"field":"cpu","type":"quantitative","scale":{"domain":[0,100],"nice":false},"axis":{"orient":"bottom","values":[0,25,50,75,100],"tickSize":-5,"labelPadding":17,"title":"CPU Utilization (%)","titlePadding":10}},
    "y":{"field":"io","type":"quantitative","scale":{"domain":[0,80],"nice":false},"axis":{"orient":"left","values":[0,20,40,60,80],"tickSize":-5,"labelPadding":23,"title":"I/O Utilization (%)","titlePadding":25}},
    "color":{"field":"type","type":"nominal","scale":{"domain":["I/O Queries","non-I/O Queries"],"range":["#00ee00","#ff0000"]},"legend":{"title":null,"orient":"none","legendX":259,"legendY":-96,"strokeColor":"#00dd00"}},
    "shape":{"field":"type","type":"nominal","scale":{"domain":["I/O Queries","non-I/O Queries"],"range":["M-1,0H1M0,-1V1M9,0","M-1,-1L1,1M-1,1L1,-1"]},"legend":{"title":null,"orient":"none","legendX":259,"legendY":-96,"strokeColor":"#00dd00"}}
   }
  },
  {
   "data":{"name":"run"},
   "transform":[{"filter":"datum.type != 'I/O Queries'"}],
   "mark":{"type":"point","filled":false,"strokeWidth":1.2,"size":64,"opacity":1},
   "encoding":{
    "x":{"field":"cpu","type":"quantitative","scale":{"domain":[0,100],"nice":false},"axis":{"orient":"top","values":[0,25,50,75,100],"tickSize":-5,"labels":false,"title":null}},
    "y":{"field":"io","type":"quantitative","scale":{"domain":[0,80],"nice":false},"axis":{"orient":"right","values":[0,20,40,60,80],"tickSize":-5,"labels":false,"title":null}},
    "color":{"field":"type","type":"nominal","scale":{"domain":["I/O Queries","non-I/O Queries"],"range":["#00ee00","#ff0000"]},"legend":{"title":null,"orient":"none","legendX":259,"legendY":-96,"strokeColor":"#00dd00"}},
    "shape":{"field":"type","type":"nominal","scale":{"domain":["I/O Queries","non-I/O Queries"],"range":["M-1,0H1M0,-1V1M9,0","M-1,-1L1,1M-1,1L1,-1"]},"legend":{"title":null,"orient":"none","legendX":259,"legendY":-96,"strokeColor":"#00dd00"}}
   }
  },
  {
   "data":{"values":[{"cpu":17.8,"io":55.7,"label":"A"}]},
   "mark":{"type":"point","shape":"circle","filled":false,"stroke":"black","strokeWidth":1,"size":1450,"opacity":1},
   "encoding":{
    "x":{"field":"cpu","type":"quantitative","axis":null},
    "y":{"field":"io","type":"quantitative","axis":null}
   }
  },
  {
   "data":{"values":[{"cpu":17.8,"io":55.7,"label":"A"}]},
   "mark":{"type":"text","font":"Liberation Serif","fontSize":18,"color":"black","dy":-10,"baseline":"middle","align":"center"},
   "encoding":{
    "x":{"field":"cpu","type":"quantitative","axis":null},
    "y":{"field":"io","type":"quantitative","axis":null},
    "text":{"field":"label"}
   }
  }
 ]
}
]
}
